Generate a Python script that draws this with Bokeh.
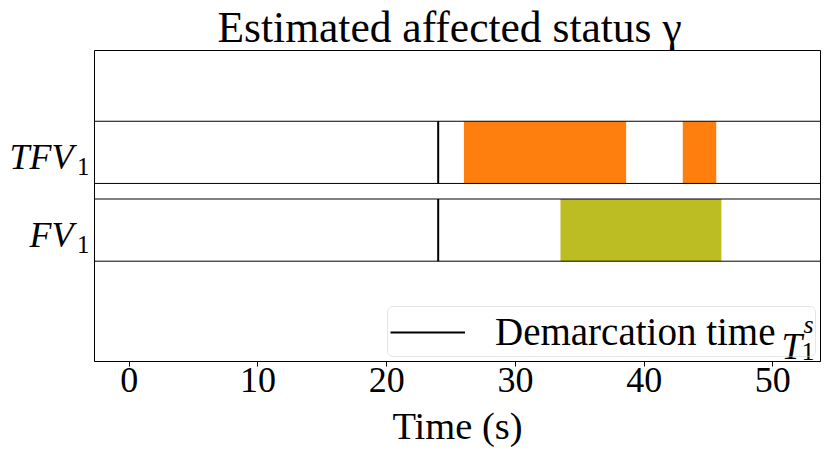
from bokeh.plotting import figure
from bokeh.models import Range1d, Label, Legend, LegendItem, FixedTicker, LinearAxis
from bokeh.embed import file_html
from bokeh.resources import INLINE

# ---- data ----
row_names = ["FV", "TFV"]
row_subscripts = ["1", "1"]
row_y = [1, 2]
row_height = 0.8
x_limits = [-2.7, 53.7]
y_limits = [-0.69, 3.31]
x_ticks = [0, 10, 20, 30, 40, 50]
demarcation_time = 24.0

tfv_starts = [26.0, 43.0]
tfv_ends = [38.6, 45.6]
fv_starts = [33.5]
fv_ends = [46.0]

SERIF = "Liberation Serif"
# vertical placement tweaks for the two-level row labels (style only)
name_shift = 0.062
sub_shift = 0.18

p = figure(frame_width=726, frame_height=311,
           min_border_left=94, min_border_right=10,
           min_border_top=50, min_border_bottom=60,
           x_range=Range1d(*x_limits), y_range=Range1d(*y_limits),
           output_backend="svg", toolbar_location=None)
p.grid.visible = False
p.outline_line_color = "black"
p.outline_line_width = 1

# title
p.title.text = "Estimated affected status \u03b3"
p.title.text_font = SERIF
p.title.text_font_size = "43.5px"
p.title.text_font_style = "normal"
p.title.text_color = "black"
p.title.align = "left"
p.title.standoff = 0
p.title.offset = 123

# x axis
ax = p.xaxis[0]
ax.ticker = FixedTicker(ticks=x_ticks)
ax.minor_tick_line_color = None
ax.major_tick_in = 0
ax.major_tick_out = 5
ax.major_tick_line_color = "black"
ax.axis_line_color = "black"
ax.major_label_text_font = SERIF
ax.major_label_text_font_size = "36px"
ax.major_label_text_color = "black"
ax.major_label_standoff = 1
ax.axis_label = "Time (s)"
ax.axis_label_text_font = SERIF
ax.axis_label_text_font_size = "38.5px"
ax.axis_label_text_font_style = "normal"
ax.axis_label_text_color = "black"
ax.axis_label_standoff = 10

# y axes: inner one carries the subscripts, outer one the row names
sub_ticks = [y - sub_shift for y in row_y]
name_ticks = [y - name_shift for y in row_y]

yax = p.yaxis[0]
yax.ticker = FixedTicker(ticks=sub_ticks)
yax.major_label_overrides = {t: s for t, s in zip(sub_ticks, row_subscripts)}
yax.major_label_text_font = SERIF
yax.major_label_text_font_size = "25px"
yax.major_label_text_color = "black"
yax.major_label_standoff = 5
yax.major_tick_in = 0
yax.major_tick_out = 0
yax.minor_tick_line_color = None
yax.major_tick_line_color = None
yax.axis_line_color = None

yax2 = LinearAxis(ticker=FixedTicker(ticks=name_ticks),
                  major_label_overrides={t: s for t, s in zip(name_ticks, row_names)})
yax2.major_label_text_font = SERIF
yax2.major_label_text_font_size = "36px"
yax2.major_label_text_font_style = "italic"
yax2.major_label_text_color = "black"
yax2.major_label_standoff = 0
yax2.major_tick_in = 0
yax2.major_tick_out = 0
yax2.minor_tick_line_color = None
yax2.major_tick_line_color = None
yax2.axis_line_color = None
p.add_layout(yax2, "left")

# affected intervals
p.hbar(y=[row_y[1]] * len(tfv_starts), left=tfv_starts, right=tfv_ends,
       height=row_height, fill_color="#ff7f0e", line_color=None)
p.hbar(y=[row_y[0]] * len(fv_starts), left=fv_starts, right=fv_ends,
       height=row_height, fill_color="#bcbd22", line_color=None)

# row boxes
p.hbar(y=row_y, left=x_limits[0], right=x_limits[1], height=row_height,
       fill_color=None, line_color="black", line_width=1)

# demarcation lines
seg = p.segment(x0=[demarcation_time] * 2, x1=[demarcation_time] * 2,
                y0=[y - row_height / 2 for y in row_y],
                y1=[y + row_height / 2 for y in row_y],
                line_color="black", line_width=2)

legend = Legend(items=[LegendItem(label="Demarcation time", renderers=[seg])],
                location="bottom_right")
legend.label_text_font = SERIF
legend.label_text_font_size = "39px"
legend.label_text_color = "black"
legend.glyph_width = 75
legend.glyph_height = 30
legend.label_standoff = 30
legend.label_width = 318
legend.label_height = 30
legend.padding = 2
legend.margin = 4
legend.border_line_color = "#cccccc"
legend.border_line_width = 1
legend.background_fill_alpha = 0.0
try:
    legend.border_radius = 6
except Exception:
    pass
p.add_layout(legend)

def lab(text, x, y, xo, yo, size, style="normal", align="left"):
    p.add_layout(Label(x=x, y=y, x_offset=xo, y_offset=yo, text=text,
                       text_font=SERIF, text_font_size=size,
                       text_font_style=style, text_color="black",
                       text_align=align, text_baseline="alphabetic",
                       level="overlay"))

# legend math T_1^s
lab("T", x_limits[1], y_limits[0], -39, 15, "37px", "italic")
lab("s", x_limits[1], y_limits[0], -17, 37, "26px", "italic")
lab("1", x_limits[1], y_limits[0], -19, 10, "26px")

open("out.html", "w").write(file_html(p, INLINE))
